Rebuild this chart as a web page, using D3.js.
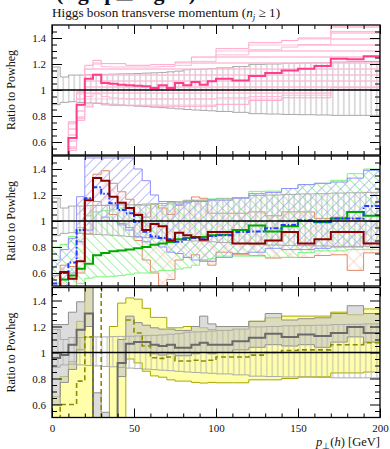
<!DOCTYPE html>
<html><head><meta charset="utf-8">
<script src="https://cdn.jsdelivr.net/npm/d3@7"></script>
<style>body{margin:0;background:#fff}svg{display:block}text{font-family:"Liberation Serif",serif;fill:#111}</style>
</head><body><svg id="c" width="390" height="449"></svg>
<script>
// bin edges (GeV)
const edges=[0,5,10,15,20,25,30,35,40,45,50,55,60,65,70,75,80,85,90,95,100,110,120,130,140,150,160,170,180,190,200];
const xTickLabels=[0,50,100,150,200];
const yTickLabels=[0.6,0.8,1,1.2,1.4];
// Powheg reference uncertainty (all panels)
const pwgHi=[1.177,1.10,1.115,1.115,1.118,1.12,1.12,1.122,1.124,1.125,1.127,1.13,1.132,1.135,1.14,1.145,1.156,1.158,1.16,1.165,1.17,1.18,1.197,1.20,1.205,1.208,1.21,1.215,1.217,1.22];
const pwgLo=[0.887,0.905,0.91,0.905,0.90,0.897,0.893,0.89,0.885,0.88,0.876,0.872,0.868,0.864,0.86,0.855,0.85,0.846,0.843,0.84,0.835,0.828,0.818,0.815,0.812,0.81,0.808,0.805,0.805,0.805];
// top panel (pink)
const pinkC=[0.3,0.3,0.63,0.887,1.087,1.118,1.054,1.049,1.04,1.036,1.033,1.028,1.015,1.036,1.015,1.054,1.036,1.062,1.04,1.067,1.087,1.074,1.108,1.13,1.15,1.164,1.185,1.24,1.236,1.26];
const pinkHi=[null,null,0.755,0.985,1.19,1.228,1.203,1.203,1.203,1.19,1.19,1.19,1.195,1.195,1.195,1.215,1.215,1.254,1.254,1.254,1.318,1.318,1.364,1.364,1.38,1.40,1.40,1.485,1.485,1.485];
const pinkLo=[null,null,0.536,0.767,0.87,0.90,0.885,0.88,0.88,0.88,0.878,0.877,0.876,0.875,0.875,0.875,0.875,0.875,0.875,0.875,0.89,0.89,0.92,0.92,0.94,0.94,0.94,1.005,1.005,1.005];
const pinkInHi=[null,null,0.74,0.97,1.16,1.20,1.18,1.177,1.177,1.177,1.177,1.177,1.177,1.18,1.18,1.19,1.19,1.22,1.22,1.22,1.27,1.27,1.31,1.31,1.33,1.35,1.35,1.45,1.45,1.45];
const pinkInLo=[null,null,0.55,0.78,0.95,0.97,0.95,0.94,0.935,0.93,0.93,0.93,0.93,0.93,0.93,0.93,0.93,0.93,0.93,0.93,0.94,0.94,0.95,0.95,0.96,0.96,0.96,1.02,1.02,1.02];
// middle panel
const blueC=[0.52,0.6,0.68,0.93,1.175,1.26,1.21,1.136,1.085,1.06,0.995,0.918,0.88,0.87,0.86,0.84,0.86,0.87,0.86,0.885,0.89,0.915,0.92,0.945,0.97,1.005,0.995,1.02,1.02,1.115];
const blueHi=[0.7,0.78,0.867,1.187,1.485,1.485,1.485,1.485,1.485,1.485,1.40,1.31,1.20,1.15,1.15,1.13,1.14,1.15,1.15,1.16,1.16,1.175,1.21,1.22,1.25,1.28,1.29,1.30,1.33,1.39];
const blueLo=[0.45,0.5,0.6,0.84,0.93,1.0,1.03,1.0,0.97,0.93,0.88,0.84,0.82,0.80,0.76,0.75,0.72,0.70,0.69,0.69,0.72,0.75,0.76,0.79,0.78,0.78,0.79,0.80,0.80,0.83];
const redC=[0.45,0.608,0.555,0.69,1.16,1.33,1.31,1.187,1.14,1.10,1.046,0.93,0.977,0.96,0.85,0.91,0.89,0.875,0.855,0.915,0.915,0.826,0.826,0.85,0.915,0.826,0.86,0.915,0.915,0.826];
const orangeHi=[0.58,0.66,0.65,0.95,1.175,1.36,1.387,1.29,1.225,1.167,1.06,1.03,1.13,1.1,1.05,1.12,1.15,1.185,1.175,1.06,1.06,1.06,1.07,1.04,1.07,1.07,1.02,1.03,1.02,1.0];
const orangeLo=[0.45,0.45,0.45,0.6,0.9,1.15,1.12,1.05,0.98,0.95,0.85,0.7,0.6,0.5,0.55,0.7,0.72,0.74,0.70,0.66,0.76,0.74,0.735,0.715,0.72,0.72,0.735,0.74,0.62,0.755];
const greenC=[0.45,0.55,0.58,0.633,0.672,0.736,0.754,0.767,0.774,0.78,0.79,0.80,0.818,0.826,0.838,0.86,0.87,0.877,0.877,0.89,0.895,0.93,0.965,0.92,0.96,1.0,0.99,1.02,1.07,1.04];
const greenHi=[0.80,0.82,0.88,0.95,1.04,1.07,1.08,1.09,1.10,1.10,1.12,1.12,1.13,1.12,1.13,1.15,1.16,1.16,1.16,1.17,1.175,1.18,1.228,1.23,1.25,1.28,1.29,1.313,1.364,1.40];
const greenLo=[0.4,0.45,0.48,0.52,0.56,0.57,0.57,0.575,0.58,0.59,0.60,0.60,0.61,0.62,0.62,0.63,0.64,0.66,0.70,0.71,0.73,0.73,0.73,0.72,0.72,0.757,0.77,0.77,0.78,0.78];
// bottom panel
const grayC=[0.957,0.98,1.06,1.175,1.30,0.3,0.3,0.3,0.92,1.067,1.08,1.08,1.06,1.05,1.06,1.036,1.036,1.06,1.075,1.06,1.06,1.087,1.113,1.144,1.12,1.138,1.126,1.15,1.197,1.15];
const grayHi=[1.215,1.215,1.31,1.39,1.6,0.69,0.54,null,1.1,1.28,1.23,1.21,1.19,1.18,1.18,1.17,1.17,1.2,1.28,1.22,1.2,1.2,1.24,1.30,1.25,1.26,1.267,1.30,1.36,1.30];
const grayLo=[0.60,0.77,0.87,1.02,1.2,0.3,0.3,null,0.815,1.0,1.0,1.0,0.99,0.98,0.99,0.975,0.975,0.99,1.0,0.99,1.0,1.02,1.04,1.06,1.05,1.06,1.04,1.08,1.12,1.08];
const yellowC=[0.3,0.6,0.6,0.78,1.12,0.3,1.8,null,null,1.25,1.15,1.05,0.96,0.955,0.965,0.935,0.935,0.94,0.935,0.94,0.965,0.965,0.98,1.0,1.015,1.02,1.02,1.06,1.06,1.075];
const yellowHi=[0.66,0.815,0.93,1.24,1.6,null,null,1.2,1.38,1.42,1.41,1.34,1.27,1.27,1.19,1.19,1.2,1.2,1.19,1.177,1.2,1.2,1.24,1.267,1.28,1.28,1.28,1.31,1.29,1.335];
const yellowLo=[0.3,0.3,0.3,0.3,0.3,null,null,0.3,0.3,0.95,0.92,0.856,0.82,0.81,0.79,0.78,0.78,0.77,0.765,0.77,0.767,0.767,0.79,0.79,0.80,0.813,0.813,0.843,0.843,0.85];

const svg=d3.select("#c");
const W0=52,W1=380,PH=130;
const x=d3.scaleLinear().domain([0,200]).range([W0,W1]);
const defs=svg.append("defs");
function hatch(id,size,angle,color,sw,cross){
  const p=defs.append("pattern").attr("id",id).attr("patternUnits","userSpaceOnUse")
    .attr("width",size).attr("height",size).attr("patternTransform",`rotate(${angle})`);
  p.append("line").attr("x1",size/2).attr("x2",size/2).attr("y1",0).attr("y2",size).attr("stroke",color).attr("stroke-width",sw);
  if(cross) p.append("line").attr("y1",size/2).attr("y2",size/2).attr("x1",0).attr("x2",size).attr("stroke",color).attr("stroke-width",sw);
}
hatch("pGray",5.5,0,"#b4b4b4",0.9);
hatch("pPink",6,90,"#ffc4dc",1);
hatch("pPinkIn",6,90,"#ffb0d0",0.8);
hatch("pBlue",7,45,"#a6aaff",0.8);
hatch("pGreen",6.5,-45,"#8cf08c",0.8);
hatch("pOrange",10,45,"#f3c4b2",0.7,true);

function stepPts(lo,hi){
  const pts=[];
  for(let i=0;i<edges.length-1;i++){
    if(lo[i]==null||(hi&&hi[i]==null)){pts.push(null);continue;}
    pts.push({x:edges[i],a:lo[i],b:hi?hi[i]:lo[i]},{x:edges[i+1],a:lo[i],b:hi?hi[i]:lo[i]});
  }
  return pts;
}
const panels=[
  {top:25,name:"top"},{top:156,name:"mid"},{top:287.5,name:"bot"}
];
panels.forEach((P,pi)=>{
  const y=d3.scaleLinear().domain([0.5,1.5]).range([P.top+PH,P.top]);
  P.y=y;
  const cid="clip"+pi;
  defs.append("clipPath").attr("id",cid).append("rect").attr("x",W0).attr("y",P.top).attr("width",W1-W0).attr("height",PH);
  const g=svg.append("g").attr("clip-path",`url(#${cid})`);
  const area=d3.area().defined(d=>d!=null).x(d=>x(d.x)).y0(d=>y(d.a)).y1(d=>y(d.b));
  const line=d3.line().defined(d=>d!=null).x(d=>x(d.x)).y(d=>y(d.a));
  const band=(lo,hi,fill,stroke,sw,op)=>g.append("path").attr("d",area(stepPts(lo,hi)))
      .attr("fill",fill).attr("fill-opacity",op==null?1:op).attr("stroke",stroke).attr("stroke-width",sw);
  const cl=(v,color,w,dash)=>g.append("path").attr("d",line(stepPts(v))).attr("fill","none")
      .attr("stroke",color).attr("stroke-width",w).attr("stroke-dasharray",dash||null);
  if(pi===0){
    band(pwgLo,pwgHi,"url(#pGray)","#a8a8a8",1);
    band(pinkLo,pinkHi,"url(#pPink)","#ffa3c9",1);
    band(pinkInLo,pinkInHi,"url(#pPinkIn)","#ffb8d6",1);
    cl(pinkC,"#ff3d8f",2);
  } else if(pi===1){
    band(orangeLo,orangeHi,"url(#pOrange)","#e08a68",1);
    band(greenLo,greenHi,"url(#pGreen)","#7cf57c",1);
    band(blueLo,blueHi,"url(#pBlue)","#9090ff",1);
    band(pwgLo,pwgHi,"url(#pGray)","#aaaaaa",1);
    cl(greenC,"#00a800",2);
    cl(blueC,"#1d3cff",2,"5,2,1.5,2");
    cl(redC,"#8b0000",2);
  } else {
    band(yellowLo,yellowHi,"#ffff96","#a8a800",1,0.8);
    band(grayLo,grayHi,"#c4c4c4","#8f8f8f",1,0.6);
    band(pwgLo,pwgHi,"url(#pGray)","#aaaaaa",1);
    cl(grayC,"#6a6a6a",2);
    cl(yellowC,"#8c8c00",1.6,"5,3");
  }
  g.append("line").attr("x1",W0).attr("x2",W1).attr("y1",y(1)).attr("y2",y(1)).attr("stroke","#000").attr("stroke-width",1.5);

  // axes
  const minorY=d3.range(11,30).map(k=>k*0.05).filter(v=>Math.abs(v*5-Math.round(v*5))>1e-6);
  const fmt=d=>d===1?"1":d3.format(".1f")(d);
  const ax=(a,tr,size,vals,labels,pad)=>{
    const s=svg.append("g").attr("transform",tr)
      .call(a.tickValues(vals).tickSize(size).tickPadding(pad||3).tickFormat(labels?labels:""));
    s.select(".domain").remove();
    s.selectAll("line").attr("stroke","#000").attr("stroke-width",1);
    s.selectAll("text").attr("font-size",11).attr("font-family","Liberation Serif, serif");
    return s;
  };
  ax(d3.axisLeft(y),`translate(${W0},0)`,-10,yTickLabels,fmt,6);
  ax(d3.axisLeft(y),`translate(${W0},0)`,-5,minorY);
  ax(d3.axisRight(y),`translate(${W1},0)`,-10,yTickLabels);
  ax(d3.axisRight(y),`translate(${W1},0)`,-5,minorY);
  const minorX=d3.range(10,200,10).filter(v=>v%50!==0);
  ax(d3.axisTop(x),`translate(0,${P.top})`,-9,xTickLabels);
  ax(d3.axisTop(x),`translate(0,${P.top})`,-4,minorX);
  ax(d3.axisBottom(x),`translate(0,${P.top+PH})`,-9,xTickLabels,pi===2?(d=>String(d)):null,7);
  ax(d3.axisBottom(x),`translate(0,${P.top+PH})`,-4,minorX);
  svg.append("rect").attr("x",W0).attr("y",P.top).attr("width",W1-W0).attr("height",PH)
    .attr("fill","none").attr("stroke","#000").attr("stroke-width",1.3);
  svg.append("text").attr("transform",`translate(15,${P.top+PH/2}) rotate(-90)`)
    .attr("text-anchor","middle").attr("font-size",12).text("Ratio to Powheg");
});

// cropped header text and title
svg.append("text").attr("x",56).attr("y",0).attr("font-size",22).attr("font-weight","bold")
  .attr("textLength",140).text("(high-p⊥ region)");
const t=svg.append("text").attr("x",52).attr("y",17).attr("font-size",13.2);
t.append("tspan").text("Higgs boson transverse momentum (");
t.append("tspan").attr("font-style","italic").text("n");
t.append("tspan").attr("font-style","italic").attr("font-size",9).attr("dy",2.5).text("j");
t.append("tspan").attr("dy",-2.5).text(" ≥ 1)");
const xl=svg.append("text").attr("x",380).attr("y",446).attr("text-anchor","end").attr("font-size",12.5);
xl.append("tspan").attr("font-style","italic").text("p");
xl.append("tspan").attr("font-size",8.5).attr("dy",2.5).text("⊥");
xl.append("tspan").attr("dy",-2.5).text("(");
xl.append("tspan").attr("font-style","italic").text("h");
xl.append("tspan").text(") [GeV]");
</script></body></html>
